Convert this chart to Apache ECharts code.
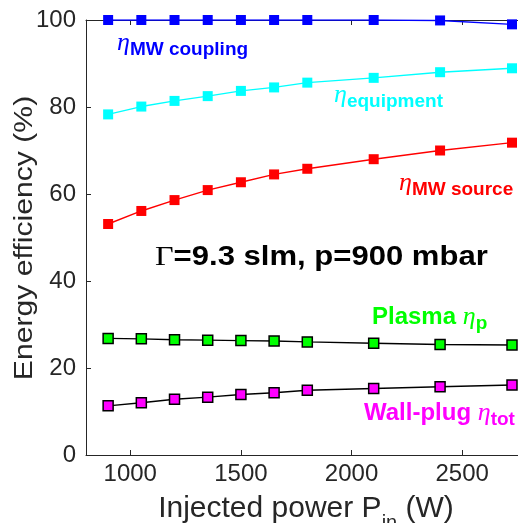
<!DOCTYPE html>
<html>
<head>
<meta charset="utf-8">
<script src="https://cdn.jsdelivr.net/npm/echarts@6/dist/echarts.min.js"></script>
<style>
  html, body { margin: 0; padding: 0; background: #fff; }
  #chart { width: 518px; height: 523px; }
</style>
</head>
<body>
<div id="chart"></div>
<script>
// Injected microwave power (W)
const power = [900, 1050, 1200, 1350, 1500, 1650, 1800, 2100, 2400, 2725];

// Efficiencies (%)
const etaCoupling  = [100, 100, 100, 100, 100, 100, 100, 100, 99.9, 99.0];
const etaEquipment = [78.3, 80.1, 81.4, 82.5, 83.7, 84.5, 85.6, 86.7, 88.0, 88.9];
const etaSource    = [53.1, 56.1, 58.6, 60.9, 62.7, 64.5, 65.8, 68.0, 70.0, 71.8];
const etaPlasma    = [26.8, 26.7, 26.5, 26.4, 26.3, 26.2, 26.0, 25.7, 25.4, 25.3];
const etaTotal     = [11.3, 12.0, 12.8, 13.3, 13.9, 14.3, 14.9, 15.3, 15.7, 16.1];

const xTicks = [1000, 1500, 2000, 2500];

const axisColor = '#262626';
const sans = 'Liberation Sans, Arial, Helvetica, sans-serif';
const serif = 'Liberation Serif, Times New Roman, serif';

const chart = echarts.init(document.getElementById('chart'), null, { renderer: 'canvas' });

function pairs(ys) { return power.map((x, i) => [x, ys[i]]); }

function lineSeries(name, ys, fill, lineColor, edge) {
  return {
    name: name,
    type: 'line',
    data: pairs(ys),
    symbol: 'rect',
    symbolSize: 10,
    itemStyle: { color: fill, borderColor: edge || fill, borderWidth: edge ? 1.5 : 0 },
    lineStyle: { color: lineColor, width: 1.4 },
    emphasis: { disabled: true },
    animation: false,
    z: 3
  };
}

const option = {
  backgroundColor: '#fff',
  animation: false,
  grid: { left: 86, top: 20, width: 442.6, height: 435, containLabel: false, outerBoundsMode: 'none' },
  xAxis: [{
    type: 'value', min: 800, max: 2800,
    axisLine: { show: true, lineStyle: { color: axisColor, width: 1 } },
    axisTick: { show: true, inside: true, length: 5, customValues: xTicks, lineStyle: { color: axisColor } },
    axisLabel: {
      customValues: xTicks, color: axisColor, fontSize: 24, fontFamily: sans, margin: 7,
      formatter: v => String(v)
    },
    splitLine: { show: false }
  }, {
    type: 'value', min: 800, max: 2800, position: 'top',
    axisLine: { show: true, lineStyle: { color: axisColor, width: 1 } },
    axisTick: { show: true, inside: true, length: 5, customValues: xTicks, lineStyle: { color: axisColor } },
    axisLabel: { show: false },
    splitLine: { show: false }
  }],
  yAxis: {
    type: 'value', min: 0, max: 100, interval: 20,
    axisLine: { show: true, lineStyle: { color: axisColor, width: 1 } },
    axisTick: { show: true, inside: true, length: 5, lineStyle: { color: axisColor } },
    axisLabel: { color: axisColor, fontSize: 24, fontFamily: sans, margin: 10 },
    splitLine: { show: false }
  },
  series: [
    lineSeries('coupling', etaCoupling, '#0000ff', '#0000ff'),
    lineSeries('equipment', etaEquipment, '#00ffff', '#00ffff'),
    lineSeries('source', etaSource, '#ff0000', '#ff0000'),
    lineSeries('plasma', etaPlasma, '#00ff00', '#000000', '#000000'),
    lineSeries('total', etaTotal, '#ff00ff', '#000000', '#000000')
  ],
  graphic: []
};

// η label with a bold subscript
function etaLabel(x, y, color, prefix, sub) {
  return {
    type: 'text', x: x, y: y, z: 10,
    style: {
      text: (prefix ? '{p|' + prefix + '}' : '') + '{e|η}{s|' + sub + '}',
      rich: {
        p: { fontSize: 24, fontWeight: 'bold', fontFamily: sans, fill: color, lineHeight: 30 },
        e: { fontSize: 26, fontStyle: 'italic', fontFamily: serif, fill: color, lineHeight: 30 },
        s: { fontSize: 19, fontWeight: 'bold', fontFamily: sans, fill: color, padding: [14, 0, 0, 0], lineHeight: 30 }
      }
    }
  };
}

option.graphic = [
  etaLabel(117, 28, '#0000ff', '', 'MW coupling'),
  etaLabel(334, 80, '#00ffff', '', 'equipment'),
  etaLabel(399, 168, '#ff0000', '', 'MW source'),
  etaLabel(372, 302, '#00ff00', 'Plasma ', 'p'),
  etaLabel(364, 398, '#ff00ff', 'Wall-plug ', 'tot'),
  {
    // operating conditions
    type: 'text', x: 155, y: 244, z: 10, scaleX: 1.15,
    style: {
      text: '{g|Γ}{t|=9.3 slm, p=900 mbar}',
      rich: {
        g: { fontSize: 28, fontFamily: serif, fill: '#000' },
        t: { fontSize: 27, fontWeight: 'bold', fontFamily: sans, fill: '#000' }
      }
    }
  },
  {
    // x-axis title
    type: 'text', x: 306, y: 492, z: 10,
    style: {
      text: '{t|Injected power P}{s|in}{t| (W)}',
      align: 'center',
      rich: {
        t: { fontSize: 30, fontFamily: sans, fill: axisColor, lineHeight: 34 },
        s: { fontSize: 20, fontFamily: sans, fill: axisColor, padding: [28, 0, 0, 0], lineHeight: 34 }
      }
    }
  },
  {
    // y-axis title
    type: 'text', x: 25, y: 238, z: 10, rotation: Math.PI / 2, scaleX: 1.16,
    style: {
      text: 'Energy efficiency (%)',
      align: 'center', verticalAlign: 'middle',
      fontSize: 26, fontFamily: sans, fill: axisColor
    }
  }
];

chart.setOption(option);
</script>
</body>
</html>
